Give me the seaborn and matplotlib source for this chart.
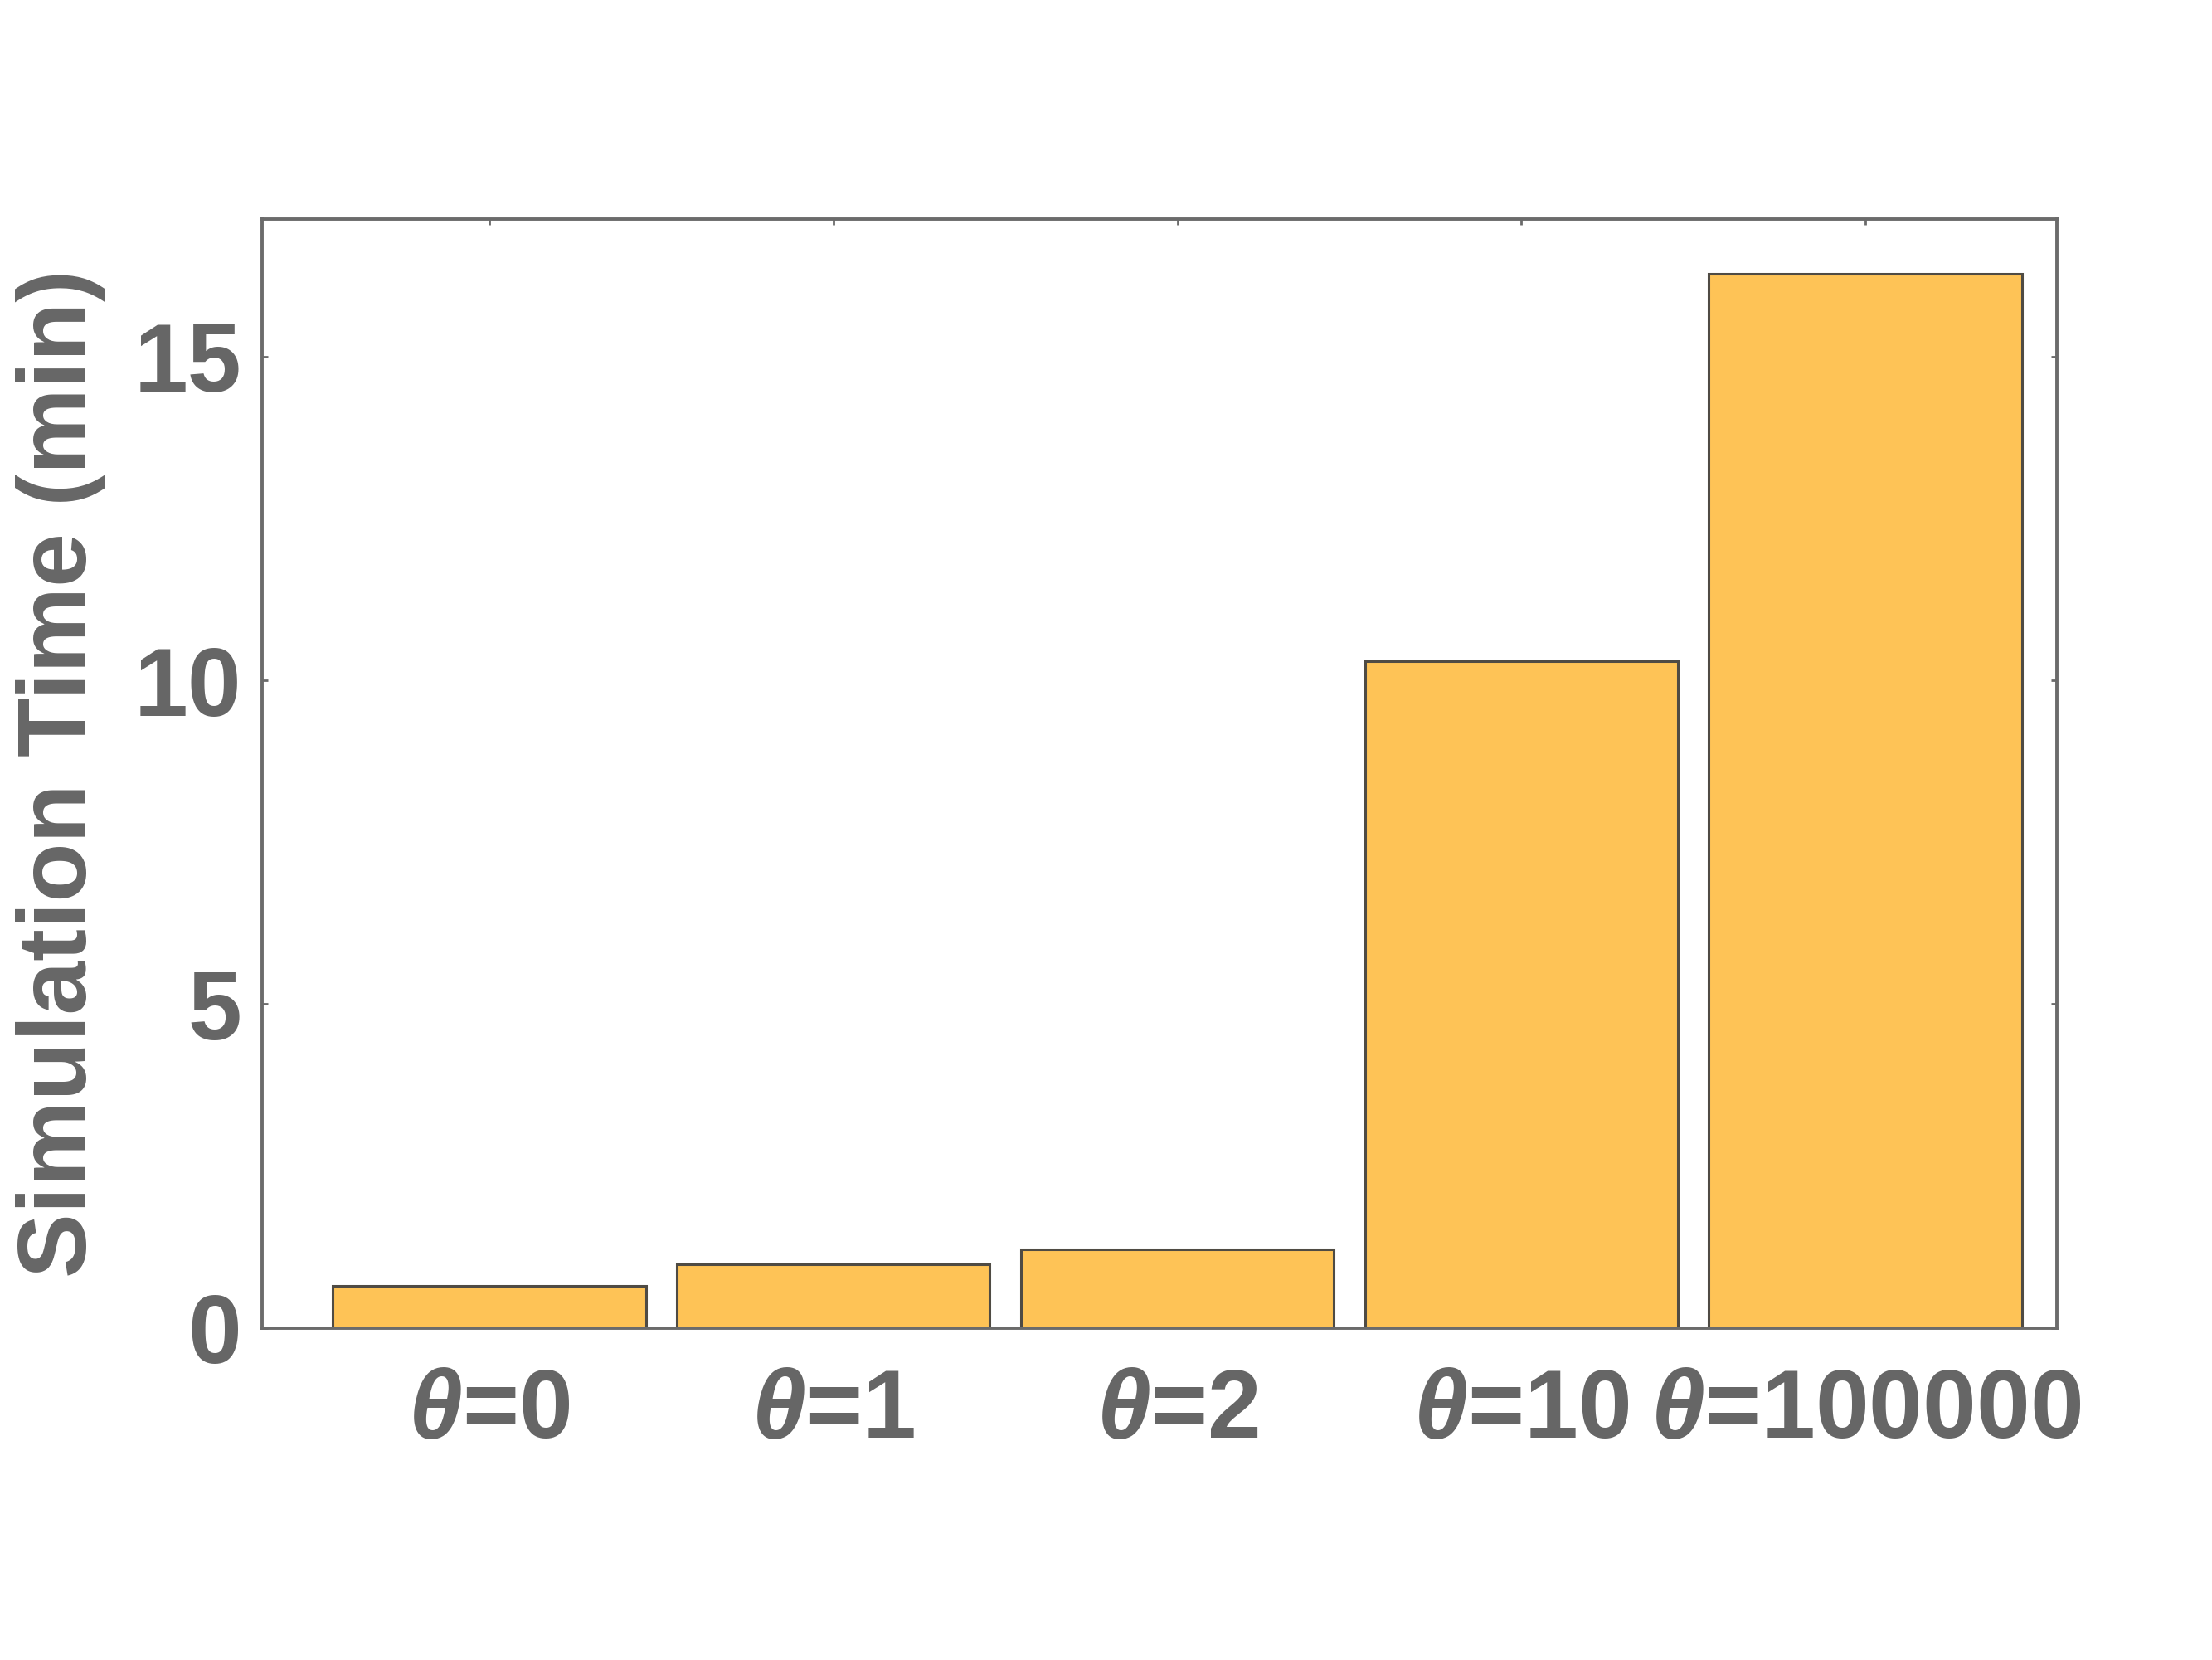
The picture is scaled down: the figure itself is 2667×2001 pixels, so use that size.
import matplotlib
matplotlib.use("Agg")
import matplotlib.pyplot as plt
import seaborn as sns

# values
thetas = ['0', '1', '2', '10', '100000']
sim_time = [0.65, 0.98, 1.22, 10.29, 16.27]
yticks = [0, 5, 10, 15]

grey = '#666666'
bar_fill = '#FEC356'
bar_edge = '#4F4B44'

sns.set_theme(style='white')
plt.rcParams['font.family'] = ['Liberation Sans', 'DejaVu Sans']
plt.rcParams['mathtext.fontset'] = 'custom'
plt.rcParams['mathtext.rm'] = 'Liberation Sans:bold'
plt.rcParams['mathtext.it'] = 'Liberation Sans:bold:italic'
plt.rcParams['mathtext.bf'] = 'Liberation Sans:bold'

fig = plt.figure(figsize=(13.335, 10.005), dpi=200)
ax = fig.add_axes([0.1185, 0.2, 0.8115, 0.668])

labels = []
for t in thetas:
    if t == '2':
        labels.append(r'$\theta$=$\mathit{2}$')
    else:
        labels.append(r'$\theta$=' + t)

sns.barplot(x=labels, y=sim_time, color=bar_fill, saturation=1, width=0.91,
            edgecolor=bar_edge, linewidth=1.1, ax=ax)

ax.set_xlim(-0.66, 4.557)
ax.set_ylim(0, 17.12)
ax.set_yticks(yticks)
ax.set_yticklabels([str(v) for v in yticks])

for s in ax.spines.values():
    s.set_visible(True)
    s.set_color('#6B6B6B')
    s.set_linewidth(1.4)

ax.tick_params(axis='both', which='major', direction='in', length=2.6, width=1.0,
               color='#6B6B6B', top=True, right=True, bottom=True, left=True,
               labelsize=42, labelcolor=grey)
ax.tick_params(axis='x', pad=17)
ax.tick_params(axis='y', pad=9)
for lab in ax.get_xticklabels() + ax.get_yticklabels():
    lab.set_fontweight('bold')

ax.set_xlabel('')
ax.set_ylabel('Simulation Time (min)', fontsize=42, fontweight='bold', color=grey)
ax.yaxis.set_label_coords(-0.087, 0.5)

fig.savefig('out.png', dpi=200, facecolor='white')
